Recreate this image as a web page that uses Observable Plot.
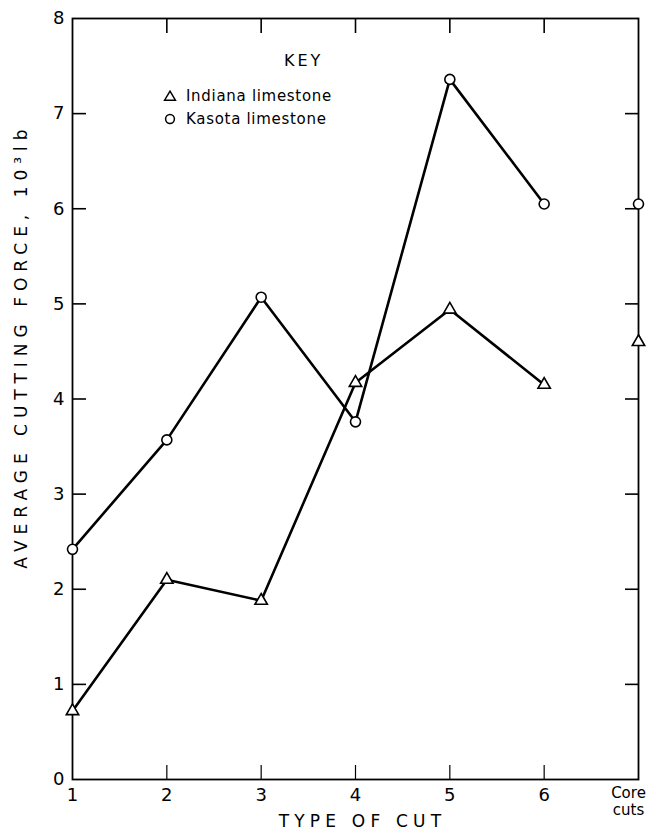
<!DOCTYPE html>
<html>
<head>
<meta charset="utf-8">
<script src="https://cdn.jsdelivr.net/npm/d3@7"></script>
<script src="https://cdn.jsdelivr.net/npm/@observablehq/plot@0.6"></script>
<style>
  html, body { margin: 0; padding: 0; background: #fff; }
  #wrap { position: relative; width: 656px; height: 837px; font-family: "DejaVu Sans", sans-serif; }
  .legend { position: absolute; font-family: "DejaVu Sans", sans-serif; color: #000; }
  .legend .key { position: absolute; left: 121px; top: 0; font-size: 16px; letter-spacing: 3px; }
  .legend .row { position: absolute; left: 0; font-size: 15px; letter-spacing: 0.7px; white-space: nowrap; display: flex; align-items: center; }
  .legend svg { margin-right: 9px; }
</style>
</head>
<body>
<div id="wrap"></div>
<script>
// ---- data ----
const cutPositions = [1, 2, 3, 4, 5, 6, 7];
const cutLabels = ["1", "2", "3", "4", "5", "6", "Core\ncuts"];
const indiana = [0.72, 2.1, 1.88, 4.17, 4.94, 4.15, 4.6];
const kasota = [2.42, 3.57, 5.07, 3.76, 7.36, 6.05, 6.05];
const seriesNames = ["Indiana limestone", "Kasota limestone"];
const yTickValues = [0, 1, 2, 3, 4, 5, 6, 7, 8];
const yInnerTicks = [1, 2, 3, 4, 5, 6, 7];
const xInnerTicks = [2, 3, 4, 5, 6];
const xTitle = "TYPE OF CUT";
const yTitle = "AVERAGE CUTTING FORCE, 10³lb";
const keyTitle = "KEY";

// ---- tables ----
const indianaRows = cutPositions.map((x, i) => ({x, y: indiana[i], core: i === 6}));
const kasotaRows = cutPositions.map((x, i) => ({x, y: kasota[i], core: i === 6}));
const lineOnly = rows => rows.filter(d => !d.core);
const labelOf = d => cutLabels[cutPositions.indexOf(d)];

const font = "DejaVu Sans, sans-serif";

const chart = Plot.plot({
  width: 656,
  height: 837,
  marginLeft: 72,
  marginRight: 18,
  marginTop: 18,
  marginBottom: 58,
  style: {fontFamily: font, fontSize: "18px", color: "#000", background: "#fff"},
  x: {domain: [1, 7]},
  y: {domain: [0, 8]},
  marks: [
    Plot.frame({stroke: "#000", strokeWidth: 1.8}),
    // tick labels
    Plot.axisY({ticks: yTickValues, tickSize: 0, tickPadding: 8, label: null, fontSize: 18, tickFormat: d => String(d)}),
    Plot.axisX({ticks: cutPositions.slice(0, 6), tickSize: 0, tickPadding: 9, label: null, fontSize: 18, tickFormat: labelOf}),
    Plot.axisX({ticks: cutPositions.slice(6), tickSize: 0, tickPadding: 7, label: null, fontSize: 15,
                tickFormat: labelOf, lineHeight: 1.1, dx: -10}),
    // inward tick marks
    Plot.axisY({anchor: "left", ticks: yInnerTicks, tickSize: -14, tickFormat: () => "", label: null, strokeWidth: 1.6}),
    Plot.axisY({anchor: "right", ticks: yInnerTicks, tickSize: -14, tickFormat: () => "", label: null, strokeWidth: 1.6}),
    Plot.axisX({anchor: "bottom", ticks: xInnerTicks, tickSize: -14, tickFormat: () => "", label: null, strokeWidth: 1.2}),
    Plot.axisX({anchor: "top", ticks: xInnerTicks, tickSize: -14, tickFormat: () => "", label: null, strokeWidth: 1.6}),
    // series
    Plot.line(lineOnly(indianaRows), {x: "x", y: "y", stroke: "#000", strokeWidth: 2.6}),
    Plot.line(lineOnly(kasotaRows), {x: "x", y: "y", stroke: "#000", strokeWidth: 2.6}),
    Plot.dot(indianaRows, {x: "x", y: "y", symbol: "triangle", r: 4.6, fill: "#fff", stroke: "#000", strokeWidth: 1.6}),
    Plot.dot(kasotaRows, {x: "x", y: "y", symbol: "circle", r: 5, fill: "#fff", stroke: "#000", strokeWidth: 1.6}),
    // axis titles
    Plot.text([xTitle], {frameAnchor: "bottom", textAnchor: "middle", text: d => d, dy: 47, dx: 7, fontSize: 17}),
    Plot.text([yTitle], {frameAnchor: "left", textAnchor: "middle", text: d => d, rotate: -90, dx: -51, dy: -53, fontSize: 17})
  ]
});

// letter-spaced titles, as in the reference typesetting
d3.select(chart).selectAll("text")
  .filter(function() { return this.textContent === xTitle; })
  .style("letter-spacing", "5.2px");
d3.select(chart).selectAll("text")
  .filter(function() { return this.textContent === yTitle; })
  .style("letter-spacing", "6px");

const wrap = document.getElementById("wrap");
wrap.appendChild(chart);

// legend ("KEY") inside the plot area
const legend = document.createElement("div");
legend.className = "legend";
legend.style.left = "163px";
legend.style.top = "51px";
const key = document.createElement("div");
key.className = "key";
key.textContent = keyTitle;
legend.appendChild(key);
const symbols = [
  '<svg width="14" height="14" viewBox="-7 -7 14 14"><path d="M0,-4.8L5.4,4.2L-5.4,4.2Z" fill="#fff" stroke="#000" stroke-width="1.5"/></svg>',
  '<svg width="14" height="14" viewBox="-7 -7 14 14"><circle r="4.4" fill="#fff" stroke="#000" stroke-width="1.5"/></svg>'
];
seriesNames.forEach((name, i) => {
  const row = document.createElement("div");
  row.className = "row";
  row.style.top = (36 + i * 23) + "px";
  row.innerHTML = symbols[i] + "<span></span>";
  row.querySelector("span").textContent = name;
  legend.appendChild(row);
});
wrap.appendChild(legend);
</script>
</body>
</html>
